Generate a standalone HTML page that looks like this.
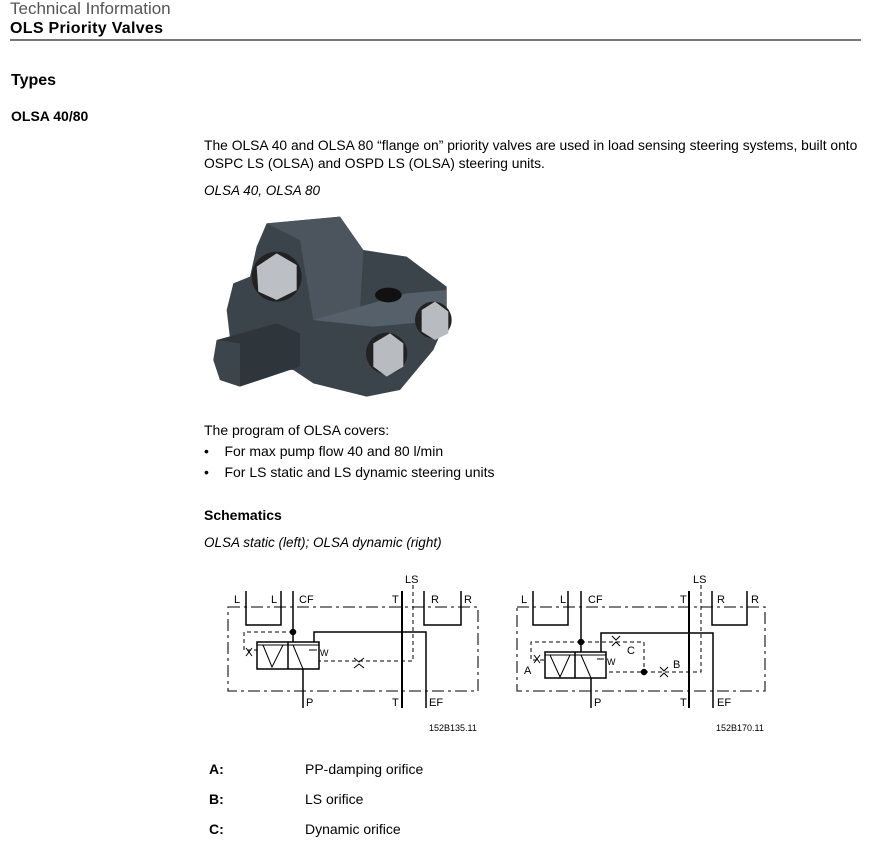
<!DOCTYPE html>
<html><head><meta charset="utf-8"><style>
body{margin:0;width:870px;height:855px;background:#fff;position:relative;font-family:"Liberation Sans",sans-serif;color:#000;overflow:hidden}
.t{position:absolute;white-space:nowrap;font-size:14px;line-height:16px}
.b{font-weight:bold}
.i{font-style:italic}
</style></head><body>
<div class="t" style="left:10px;top:0px;font-size:17px;line-height:18px;color:#555">Technical Information</div>
<div class="t b" style="left:10px;top:20px;font-size:16px;line-height:18px;letter-spacing:0.3px">OLS Priority Valves</div>
<div style="position:absolute;left:10px;top:39px;width:851px;height:2px;background:#777"></div>
<div class="t b" style="left:11px;top:72px;font-size:16px;line-height:18px">Types</div>
<div class="t b" style="left:11px;top:108px">OLSA 40/80</div>
<div class="t" style="left:204px;top:137px;font-size:13.85px">The OLSA 40 and OLSA 80 “flange on” priority valves are used in load sensing steering systems, built onto</div>
<div class="t" style="left:204px;top:155px;font-size:13.85px">OSPC LS (OLSA) and OSPD LS (OLSA) steering units.</div>
<div class="t i" style="left:204px;top:183px;font-size:13.5px">OLSA 40, OLSA 80</div>
<svg style="position:absolute;left:200px;top:210px" width="270" height="200" viewBox="0 0 810 600">
<path d="M200 40 L420 20 L490 120 L620 140 L740 230 L740 330 L700 420 L600 540 L500 560 L340 520 L280 480 L100 470 L80 300 L100 220 L150 200 L170 110 Z" fill="#3c444b"/>
<path d="M200 40 L420 20 L490 120 L480 300 L340 330 L300 90 Z" fill="#4c555d"/>
<path d="M340 330 L620 250 L740 240 L740 330 L520 350 Z" fill="#56606a"/>
<ellipse cx="565" cy="255" rx="40" ry="22" fill="#111"/>
<path d="M50 390 L230 340 L300 370 L300 470 L120 530 L60 510 L40 450 Z" fill="#2e353b"/>
<path d="M50 390 L120 400 L120 530 L60 510 L40 450 Z" fill="#3d454c"/>
<circle cx="230" cy="200" r="75" fill="#222"/>
<polygon points="170,170 230,130 290,165 290,240 230,270 175,245" fill="#bcc0c4"/>
<circle cx="560" cy="430" r="62" fill="#222"/>
<polygon points="520,400 570,370 610,400 610,470 560,500 520,470" fill="#b8bcc0"/>
<circle cx="700" cy="330" r="55" fill="#222"/>
<polygon points="665,300 705,275 745,305 745,370 705,390 665,365" fill="#b8bcc0"/>
</svg>
<div class="t" style="left:204px;top:422px">The program of OLSA covers:</div>
<div class="t" style="left:204px;top:443px">•&nbsp;&nbsp;&nbsp;&nbsp;For max pump flow 40 and 80 l/min</div>
<div class="t" style="left:204px;top:464px">•&nbsp;&nbsp;&nbsp;&nbsp;For LS static and LS dynamic steering units</div>
<div class="t b" style="left:204px;top:507px">Schematics</div>
<div class="t i" style="left:204px;top:535px;font-size:13.5px">OLSA static (left); OLSA dynamic (right)</div>
<svg style="position:absolute;left:0;top:0" width="870" height="855" font-family="Liberation Sans,sans-serif" font-size="11" fill="none" stroke="#000" stroke-width="1.5">
<g>
<rect x="228" y="607" width="250" height="84" stroke="#333" stroke-width="1.3" stroke-dasharray="12,4,3,4"/>
<polyline points="246,591 246,625 281,625 281,591"/>
<polyline points="424,591 424,625 461,625 461,591"/>
<line x1="293" y1="591" x2="293" y2="655"/>
<circle cx="293" cy="632" r="2.5" fill="#000"/>
<line x1="402" y1="591" x2="402" y2="708" stroke-width="2"/>
<polyline points="314,650 314,632 426,632 426,708"/>
<line x1="303" y1="669" x2="303" y2="708"/>
<rect x="257" y="642" width="62" height="27" fill="#fff"/>
<line x1="288" y1="642" x2="288" y2="669"/>
<line x1="257" y1="645" x2="319" y2="645" stroke-width="1"/>
<polyline points="263,645 272,667 283,645" stroke-width="1"/>
<polyline points="293,645 303,669" stroke-width="1"/>
<line x1="309" y1="650" x2="317" y2="650" stroke-width="1"/>
<polyline points="413,585 413,661 319,661" stroke-dasharray="4,3" stroke-width="1"/>
<polyline points="293,632 244,632 244,650 257,650" stroke-dasharray="4,3" stroke-width="1"/>
<path d="M354 658 l5 4 l5 -4 M354 668 l5 -4 l5 4" stroke-width="1"/>
<path d="M246 648 l3 4 l3 -4 M246 656 l3 -4 l3 4" stroke-width="1"/>
</g>
<g>
<rect x="517" y="607" width="248" height="84" stroke="#333" stroke-width="1.3" stroke-dasharray="12,4,3,4"/>
<polyline points="533,591 533,625 568,625 568,591"/>
<polyline points="712,591 712,625 747,625 747,591"/>
<line x1="581" y1="591" x2="581" y2="665"/>
<circle cx="581" cy="642" r="2.5" fill="#000"/>
<line x1="689" y1="591" x2="689" y2="708" stroke-width="2"/>
<polyline points="601,660 601,633 713,633 713,708"/>
<line x1="591" y1="678" x2="591" y2="708"/>
<rect x="545" y="652" width="61" height="26" fill="#fff"/>
<line x1="575" y1="652" x2="575" y2="678"/>
<line x1="545" y1="655" x2="606" y2="655" stroke-width="1"/>
<polyline points="550,655 560,677 570,655" stroke-width="1"/>
<polyline points="581,655 591,678" stroke-width="1"/>
<line x1="597" y1="659" x2="604" y2="659" stroke-width="1"/>
<polyline points="701,585 701,672 606,672" stroke-dasharray="4,3" stroke-width="1"/>
<polyline points="581,642 531,642 531,660 545,660" stroke-dasharray="4,3" stroke-width="1"/>
<polyline points="581,642 644,642 644,672" stroke-dasharray="4,3" stroke-width="1"/>
<circle cx="644" cy="672" r="2.5" fill="#000"/>
<path d="M660 667 l4 4 l4 -4 M660 677 l4 -4 l4 4" stroke-width="1"/>
<path d="M612 636 l4 4 l4 -4 M612 646 l4 -4 l4 4" stroke-width="1"/>
<path d="M534 655 l3 4 l3 -4 M534 663 l3 -4 l3 4" stroke-width="1"/>
</g>
<g fill="#000" stroke="none">
<text x="405" y="583">LS</text><text x="234" y="603">L</text><text x="271" y="603">L</text><text x="299" y="603">CF</text>
<text x="392" y="603">T</text><text x="431" y="603">R</text><text x="464" y="603">R</text>
<text x="306" y="706">P</text><text x="392" y="706">T</text><text x="429" y="706">EF</text>
<text x="320" y="656" font-size="9">W</text>
<text x="429" y="731" font-size="9">152B135.11</text>
<text x="693" y="583">LS</text><text x="521" y="603">L</text><text x="560" y="603">L</text><text x="588" y="603">CF</text>
<text x="680" y="603">T</text><text x="717" y="603">R</text><text x="751" y="603">R</text>
<text x="594" y="706">P</text><text x="680" y="706">T</text><text x="717" y="706">EF</text>
<text x="607" y="665" font-size="9">W</text>
<text x="524" y="674">A</text><text x="627" y="654">C</text><text x="673" y="668">B</text>
<text x="716" y="731" font-size="9">152B170.11</text>
</g>
</svg>
<div class="t b" style="left:209px;top:761px">A:</div><div class="t" style="left:305px;top:761px">PP-damping orifice</div>
<div class="t b" style="left:209px;top:791px">B:</div><div class="t" style="left:305px;top:791px">LS orifice</div>
<div class="t b" style="left:209px;top:821px">C:</div><div class="t" style="left:305px;top:821px">Dynamic orifice</div>
</body></html>
